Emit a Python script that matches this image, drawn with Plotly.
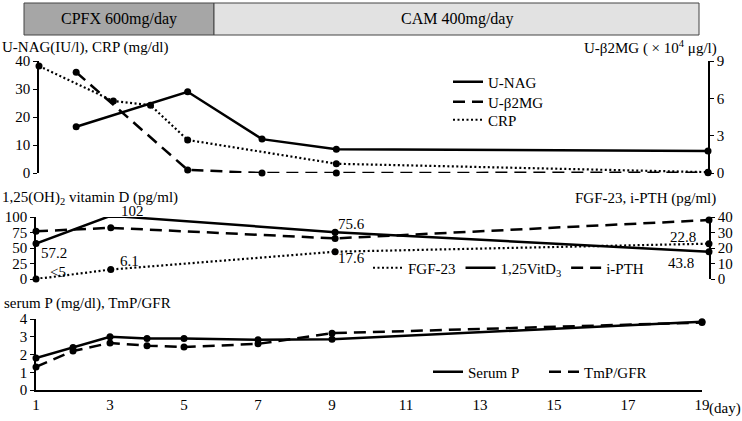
import plotly.graph_objects as go

W, H = 742, 421
FONT = "Liberation Serif, Times New Roman, Times, serif"

# --- top panel: urinary markers and CRP ---
nag_days = [2, 5, 7, 9, 19]
u_nag = [16.5, 29.0, 12.1, 8.5, 7.9]
b2mg_days = [2, 5, 7, 9, 19]
u_b2mg = [8.1, 0.25, 0.0, 0.0, 0.02]        # x10^4 ug/l, right axis
crp_days = [1, 3, 4, 5, 9, 19]
crp = [38.2, 25.7, 24.2, 11.8, 3.3, 0.3]

# --- middle panel: vitamin D, FGF-23, i-PTH ---
mid_days = [1, 3, 9, 19]
vitd = [57.2, 102, 75.6, 43.8]
vitd_labels = ["57.2", "102", "75.6", "43.8"]
fgf23 = [0, 6.1, 17.6, 22.8]                 # right axis, first value reported as <5
fgf23_labels = ["<5", "6.1", "17.6", "22.8"]
ipth = [30.8, 33.0, 26.2, 38.0]              # right axis

# --- bottom panel: serum P and TmP/GFR ---
bot_days = [1, 2, 3, 4, 5, 7, 9, 19]
serum_p = [1.8, 2.4, 3.0, 2.9, 2.9, 2.83, 2.86, 3.85]
tmp_gfr = [1.3, 2.2, 2.65, 2.5, 2.42, 2.6, 3.2, 3.8]

day_ticks = [1, 3, 5, 7, 9, 11, 13, 15, 17, 19]
day_ticktext = [str(d) for d in day_ticks]

# treatment periods in the band on top
periods = ["CPFX 600mg/day", "CAM 400mg/day"]

VITD_MAX = 100


def px(x):
    return x / W


def py(y):
    return 1 - y / H


SOLID = "solid"
DASH = "12px,7px"
DOT = "2px,2.5px"


def series(fig, x, y, dash, xa, ya, width=2.5):
    fig.add_trace(go.Scatter(
        x=x, y=y, mode="lines+markers", xaxis=xa, yaxis=ya,
        line=dict(color="black", width=width, dash=dash),
        marker=dict(color="black", size=7), cliponaxis=False,
        showlegend=False, hoverinfo="skip",
    ))


def legend_entry(fig, name, dash, legend, width=2.5):
    fig.add_trace(go.Scatter(
        x=[None], y=[None], mode="lines", name=name, legend=legend,
        line=dict(color="black", width=width, dash=dash),
    ))


fig = go.Figure()

series(fig, nag_days, u_nag, SOLID, "x", "y")
series(fig, b2mg_days, u_b2mg, DASH, "x", "y2")
series(fig, crp_days, crp, DOT, "x", "y", width=2.2)
legend_entry(fig, "U-NAG", SOLID, "legend")
legend_entry(fig, "U-β2MG", DASH, "legend5")
legend_entry(fig, "CRP", DOT, "legend6", width=2.2)

series(fig, mid_days, fgf23, DOT, "x2", "y4", width=2.2)
series(fig, mid_days, vitd, SOLID, "x2", "y3")
series(fig, mid_days, ipth, DASH, "x2", "y4")
legend_entry(fig, "FGF-23", DOT, "legend2", width=2.2)
legend_entry(fig, "1,25VitD<sub>3</sub>", SOLID, "legend2")
legend_entry(fig, "i-PTH", DASH, "legend2")

series(fig, bot_days, serum_p, SOLID, "x3", "y5")
series(fig, bot_days, tmp_gfr, DASH, "x3", "y5")
legend_entry(fig, "Serum P", SOLID, "legend3")
legend_entry(fig, "TmP/GFR", DASH, "legend4")

yax = dict(showline=True, linecolor="black", linewidth=1.6, ticks="outside",
           ticklen=4, tickcolor="black", tickwidth=1.4, showgrid=False,
           zeroline=False, automargin=False,
           tickfont=dict(family=FONT, size=15, color="black"))
hidden_x = dict(range=[1, 19], visible=False, automargin=False)


def leg(x, y, horizontal=False):
    d = dict(x=px(x), y=py(y), xanchor="left", yanchor="middle",
             bgcolor="rgba(0,0,0,0)", borderwidth=0,
             font=dict(family=FONT, size=15, color="black"))
    if horizontal:
        d["orientation"] = "h"
    return d


fig.update_layout(
    template="none",
    width=W, height=H, margin=dict(l=0, r=0, t=0, b=0, pad=0, autoexpand=False),
    paper_bgcolor="white", plot_bgcolor="rgba(0,0,0,0)",
    font=dict(family=FONT, size=15, color="black"),
    xaxis=dict(domain=[px(39), px(708)], anchor="y", **hidden_x),
    yaxis=dict(domain=[py(173), py(61)], range=[0, 40], anchor="x",
               tickvals=[0, 10, 20, 30, 40], **yax),
    yaxis2=dict(overlaying="y", side="right", anchor="x", range=[0, 9],
                tickvals=[0, 3, 6, 9], **yax),
    xaxis2=dict(domain=[px(36), px(709)], anchor="y3", **hidden_x),
    yaxis3=dict(domain=[py(279), py(217)], range=[0, VITD_MAX], anchor="x2",
                tickvals=[0, 25, 50, 75, 100], **yax),
    yaxis4=dict(overlaying="y3", side="right", anchor="x2", range=[0, 40],
                tickvals=[0, 10, 20, 30, 40], **yax),
    xaxis3=dict(domain=[px(36), px(702)], anchor="y5", range=[1, 19],
                showline=True, linecolor="black", linewidth=1.6, ticks="",
                tickvals=day_ticks, ticktext=day_ticktext, showgrid=False,
                zeroline=False, automargin=False,
                tickfont=dict(family=FONT, size=15, color="black")),
    yaxis5=dict(domain=[py(390), py(319)], range=[0, 4], anchor="x3",
                tickvals=[0, 1, 2, 3, 4], **yax),
    legend=leg(448, 82),
    legend5=leg(448, 102),
    legend6=leg(448, 120),
    legend2=leg(368, 268, True),
    legend3=leg(428, 372, True),
    legend4=leg(544, 372, True),
)

# treatment band
band = [(24, 214, "#a6a6a6"), (214, 699, "#e2e2e2")]
for (x0, x1, color), label in zip(band, periods):
    fig.add_shape(type="rect", xref="paper", yref="paper",
                  x0=px(x0), x1=px(x1), y0=py(35), y1=py(3),
                  fillcolor=color, line=dict(color="#444444", width=1))
    fig.add_annotation(xref="paper", yref="paper", x=px((x0 + x1) / 2), y=py(19),
                       xanchor="center", yanchor="middle",
                       text=label, showarrow=False, font=dict(size=16))

# axis titles
titles = [
    ("U-NAG(IU/l), CRP (mg/dl)", 0, 47, "left"),
    ("U-β2MG ( × 10<sup>4</sup> μg/l)", 719, 47, "right"),
    ("1,25(OH)<sub>2</sub> vitamin D (pg/ml)", 0, 198, "left"),
    ("FGF-23, i-PTH (pg/ml)", 718, 198, "right"),
    ("serum P (mg/dl), TmP/GFR", 2, 303, "left"),
]
for text, x, y, anchor in titles:
    fig.add_annotation(xref="paper", yref="paper", x=px(x), y=py(y),
                       xanchor=anchor, yanchor="middle", text=text,
                       showarrow=False, font=dict(size=15))

# value labels in the middle panel
# (plotly hides data-anchored annotations outside the axis range, so the
#  102 label is anchored at the top of the axis and nudged up instead)
vitd_offsets = [(3, -9, "left"), (8, 6, "left"), (1, 8, "left"), (-13, -11, "right")]
for d, v, t, (dx, dy, anc) in zip(mid_days, vitd, vitd_labels, vitd_offsets):
    fig.add_annotation(xref="x2", yref="y3", x=d, y=min(v, VITD_MAX), text=t,
                       showarrow=False, xanchor=anc, yanchor="middle",
                       xshift=dx, yshift=dy, font=dict(size=15))
fgf_offsets = [(12, 7, "left"), (7, 9, "left"), (1, -6, "left"), (-11, 7, "right")]
for d, v, t, (dx, dy, anc) in zip(mid_days, fgf23, fgf23_labels, fgf_offsets):
    fig.add_annotation(xref="x2", yref="y4", x=d, y=v, text=t, showarrow=False,
                       xanchor=anc, yanchor="middle", xshift=dx, yshift=dy,
                       font=dict(size=15))

# unit after the last day tick
fig.add_annotation(xref="x3", yref="y5", x=day_ticks[-1], y=0, text="(day)",
                   showarrow=False, xanchor="left", yanchor="middle",
                   xshift=5, yshift=-18, font=dict(size=15))

# the page body has a default 8px margin; drop it so the figure sits at 0,0
fig.write_html("out.html", config={"displayModeBar": False},
               post_script="document.body.style.margin = '0';")
